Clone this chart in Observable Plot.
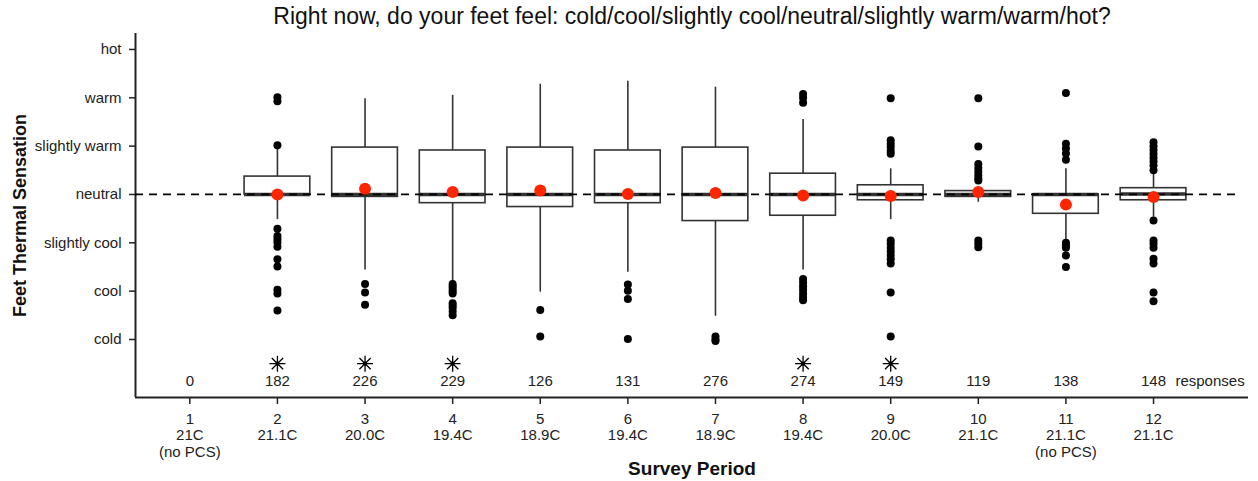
<!DOCTYPE html>
<html>
<head>
<meta charset="utf-8">
<script src="https://cdn.jsdelivr.net/npm/d3@7"></script>
<script src="https://cdn.jsdelivr.net/npm/@observablehq/plot@0.6"></script>
<style>
  html, body { margin: 0; padding: 0; background: #fff; }
  #chart svg { display: block; }
</style>
</head>
<body>
<div id="chart"></div>
<script>
// ---- data ----
const periods = [1, 2, 3, 4, 5, 6, 7, 8, 9, 10, 11, 12];
const temps = ["21C", "21.1C", "20.0C", "19.4C", "18.9C", "19.4C", "18.9C", "19.4C", "20.0C", "21.1C", "21.1C", "21.1C"];
const notes = ["(no PCS)", "", "", "", "", "", "", "", "", "", "(no PCS)", ""];
const counts = [0, 182, 226, 229, 126, 131, 276, 274, 149, 119, 138, 148];
const starred = [false, true, true, true, false, false, false, true, true, false, false, false];

const levelValues = [-3, -2, -1, 0, 1, 2, 3];
const levelNames = ["cold", "cool", "slightly cool", "neutral", "slightly warm", "warm", "hot"];

const q1 = [null, 0.0, -0.05, -0.18, -0.26, -0.18, -0.55, -0.44, -0.12, -0.05, -0.40, -0.12];
const medians = [null, 0.0, 0.0, 0.0, 0.0, 0.0, 0.0, 0.0, 0.0, 0.0, 0.0, 0.01];
const q3 = [null, 0.37, 0.97, 0.91, 0.97, 0.91, 0.97, 0.43, 0.19, 0.07, 0.0, 0.13];
const whiskerLow = [null, -0.52, -1.56, -1.81, -2.02, -1.61, -2.52, -1.56, -0.52, -0.16, -0.97, -0.47];
const whiskerHigh = [null, 0.93, 1.98, 2.05, 2.28, 2.34, 2.22, 1.55, 0.53, 0.15, 0.53, 0.46];
const means = [null, 0.0, 0.12, 0.05, 0.08, 0.01, 0.03, -0.02, -0.03, 0.05, -0.21, -0.05];
const outliers = [
  [],
  [2.01, 1.93, 1.02, -0.71, -0.86, -0.92, -0.99, -1.08, -1.34, -1.49, -1.97, -2.05, -2.40],
  [-1.85, -2.03, -2.28],
  [-1.85, -1.9, -1.95, -2.0, -2.05, -2.25, -2.3, -2.35, -2.42, -2.5],
  [-2.39, -2.94],
  [-1.86, -1.99, -2.16, -2.99],
  [-2.94, -3.0, -3.03],
  [2.08, 2.0, 1.9, -1.75, -1.82, -1.9, -1.97, -2.05, -2.12, -2.19],
  [1.99, 1.12, 1.05, 0.98, 0.9, 0.84, -0.95, -1.02, -1.1, -1.18, -1.26, -1.34, -1.43, -2.03, -2.94],
  [1.99, 0.99, 0.63, 0.55, 0.47, 0.4, 0.33, 0.29, -0.95, -1.02, -1.09],
  [2.10, 1.05, 0.95, 0.85, 0.72, -1.0, -1.05, -1.1, -1.26, -1.5],
  [1.08, 1.0, 0.92, 0.84, 0.76, 0.68, 0.6, 0.5, -0.54, -0.95, -1.02, -1.1, -1.33, -1.43, -2.03, -2.21]
];

// ---- derived tables ----
const boxes = periods.map((p, i) => ({
  p, q1: q1[i], med: medians[i], q3: q3[i], lo: whiskerLow[i], hi: whiskerHigh[i], mean: means[i]
})).filter(d => d.q1 !== null);
const outlierRows = periods.flatMap((p, i) => outliers[i].map(v => ({p, v})));
const countRows = periods.map((p, i) => ({p, n: counts[i]}));
const starRows = periods.map((p, i) => ({p, s: starred[i]})).filter(d => d.s);

const halfBox = 0.375;
const starY = -3.5;
const countY = -3.87;
const xDomain = [0.38, 13.084];
const yDomain = [-4.2, 3.33];

const asterisk = {
  draw(context, size) {
    const r = Math.sqrt(size / Math.PI);
    for (let k = 0; k < 4; k++) {
      const a = k * Math.PI / 4;
      context.moveTo(-r * Math.cos(a), -r * Math.sin(a));
      context.lineTo(r * Math.cos(a), r * Math.sin(a));
    }
    context.moveTo(1.6, 0);
    context.arc(0, 0, 1.6, 0, 2 * Math.PI);
  }
};

const ink = "#222";
const font = "'Liberation Sans', Arial, Helvetica, sans-serif";

const chart = Plot.plot({
  width: 1258,
  height: 481,
  marginLeft: 135,
  marginRight: 10,
  marginTop: 33,
  marginBottom: 84,
  style: {fontFamily: font, fontSize: "15px", color: ink, background: "#fff"},
  x: {type: "linear", domain: xDomain},
  y: {type: "linear", domain: yDomain},
  marks: [
    // axes
    Plot.axisY({
      ticks: levelValues,
      tickFormat: (d) => levelNames[levelValues.indexOf(d)],
      tickSize: 6, tickPadding: 8, label: null, fontSize: 15, strokeWidth: 1.5
    }),
    Plot.axisX({
      ticks: periods,
      tickFormat: (d) => {
        const i = periods.indexOf(d);
        return `${d}\n${temps[i]}` + (notes[i] ? `\n${notes[i]}` : "");
      },
      tickSize: 7, tickPadding: 7, lineHeight: 1.13, label: null, fontSize: 15, strokeWidth: 1.5
    }),
    Plot.ruleX([xDomain[0]], {y1: yDomain[0], y2: yDomain[1], stroke: ink, strokeWidth: 2}),
    Plot.ruleY([yDomain[0]], {x1: xDomain[0], x2: xDomain[1], stroke: ink, strokeWidth: 2}),

    // whiskers
    Plot.ruleX(boxes, {x: "p", y1: "q3", y2: "hi", stroke: "#333", strokeWidth: 1.6}),
    Plot.ruleX(boxes, {x: "p", y1: "q1", y2: "lo", stroke: "#333", strokeWidth: 1.6}),
    // boxes
    Plot.rect(boxes, {x1: d => d.p - halfBox, x2: d => d.p + halfBox, y1: "q1", y2: "q3",
      fill: "#fff", stroke: "#333", strokeWidth: 1.6}),
    // medians
    Plot.ruleY(boxes, {y: "med", x1: d => d.p - halfBox, x2: d => d.p + halfBox, stroke: "#333", strokeWidth: 3.5}),
    // outliers
    Plot.dot(outlierRows, {x: "p", y: "v", r: 4, fill: "#000", stroke: "none"}),
    // neutral reference line
    Plot.ruleY([0], {x1: xDomain[0], x2: 13.0, stroke: "#000", strokeWidth: 1.8, strokeDasharray: "8,6"}),
    // means
    Plot.dot(boxes, {x: "p", y: "mean", r: 6, fill: "#ff2500", stroke: "none"}),

    // significance stars
    Plot.dot(starRows, {x: "p", y: () => starY, r: 8, symbol: asterisk, stroke: "#000", fill: "#000", strokeWidth: 1.3}),
    // response counts
    Plot.text(countRows, {x: "p", y: () => countY, text: d => String(d.n), fontSize: 15, fill: ink}),
    Plot.text(["responses"], {x: () => 12.25, y: () => countY, text: d => d, textAnchor: "start", fontSize: 15, fill: ink}),

    // titles
    Plot.text(["Right now, do your feet feel: cold/cool/slightly cool/neutral/slightly warm/warm/hot?"],
      {frameAnchor: "top", dy: -17, lineAnchor: "middle", fontSize: 23, fill: "#111", text: d => d}),
    Plot.text(["Feet Thermal Sensation"],
      {frameAnchor: "left", dx: -115, rotate: -90, textAnchor: "middle", lineAnchor: "middle", fontSize: 18, fontWeight: "bold", fill: "#111", text: d => d}),
    Plot.text(["Survey Period"],
      {frameAnchor: "bottom", dy: 71, lineAnchor: "middle", fontSize: 19, fontWeight: "bold", fill: "#111", text: d => d})
  ]
});
document.getElementById("chart").appendChild(chart);
</script>
</body>
</html>
